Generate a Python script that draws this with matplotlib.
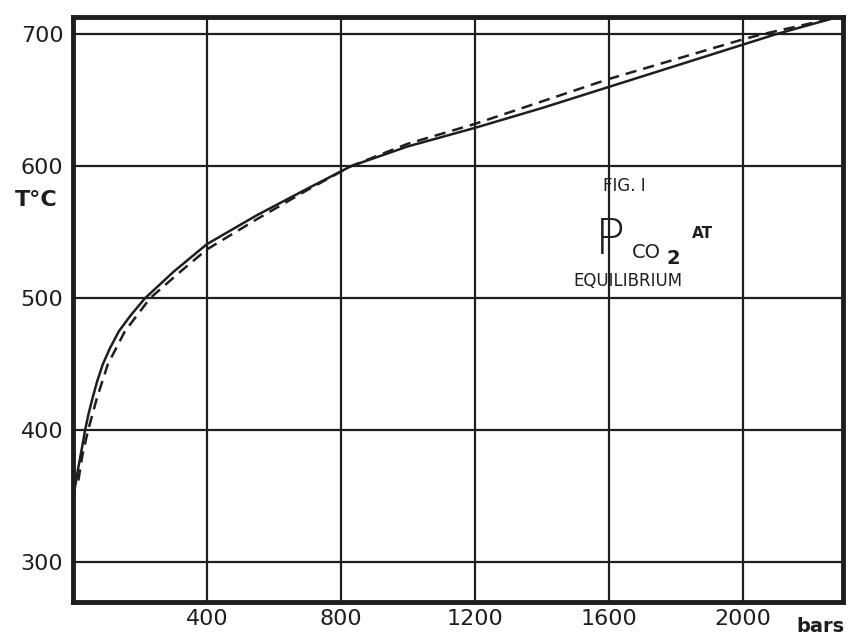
import numpy as np
import matplotlib
matplotlib.use("Agg")
import matplotlib.pyplot as plt

# P_CO2 (bars) vs temperature (deg C)
solid_p = [0, 6, 16, 27, 36, 46, 58, 72, 89, 110, 137, 172, 215, 300, 400,
           550, 700, 830, 1000, 1200, 1400, 1600, 1800, 2000, 2100, 2270]
solid_t = [347, 357, 372, 387, 400, 412, 424, 437, 450, 462, 475, 487, 500,
           520, 541, 563, 583, 600, 615, 629, 644, 660, 676, 692, 700, 712]

dashed_p = [16, 28, 45, 71, 104, 155, 230, 320, 400, 550, 700, 830,
            1000, 1200, 1400, 1600, 1800, 2000, 2060, 2270]
dashed_t = [362, 381, 400, 424, 450, 475, 500, 520, 537, 560, 582, 600,
            617, 632, 649, 666, 681, 696, 700, 712]

x_ticks = [400, 800, 1200, 1600, 2000]
y_ticks = [300, 400, 500, 600, 700]

W, H = 848, 638
ink = "#1e1e1e"


def px(x, y):
    """pixel position -> figure fraction"""
    return x / W, 1 - y / H


fig = plt.figure(figsize=(W / 100, H / 100), dpi=100)
ax = fig.add_axes([73 / W, 1 - 602 / H, (843 - 73) / W, (602 - 17) / H])

ax.set_xlim(0, 2300)
ax.set_ylim(270, 713)

for x in x_ticks:
    ax.axvline(x, color=ink, lw=1.6, zorder=1)
for y in y_ticks:
    ax.axhline(y, color=ink, lw=1.6, zorder=1)

ax.plot(solid_p, solid_t, color=ink, lw=1.8, zorder=3)
ax.plot(dashed_p, dashed_t, color=ink, lw=1.8, dashes=(4.5, 2.8), zorder=3)

for s in ax.spines.values():
    s.set_linewidth(3.5)
    s.set_color(ink)

ax.set_xticks(x_ticks)
ax.set_yticks(y_ticks)
ax.tick_params(length=0, labelsize=16, colors=ink)
ax.tick_params(axis="x", pad=5)
ax.tick_params(axis="y", pad=7)

fig.text(*px(36, 200), "T°C", fontsize=16, fontweight="bold", color=ink,
         ha="center", va="center")
fig.text(*px(820, 626), "bars", fontsize=14, fontweight="bold", color=ink,
         ha="center", va="center")

fig.text(*px(624, 186), "FIG. I", fontsize=12, color=ink, ha="center", va="center")
fig.text(*px(610, 240), "P", fontsize=36, color=ink, ha="center", va="center",
         fontweight="light")
fig.text(*px(646, 252), "CO", fontsize=14, color=ink, ha="center", va="center")
fig.text(*px(673, 258), "2", fontsize=14, fontweight="bold", color=ink,
         ha="center", va="center")
fig.text(*px(702, 233), "AT", fontsize=11, fontweight="bold", color=ink,
         ha="center", va="center")
fig.text(*px(628, 281), "EQUILIBRIUM", fontsize=12, color=ink,
         ha="center", va="center")

fig.savefig("out.png", dpi=100, facecolor="white")
